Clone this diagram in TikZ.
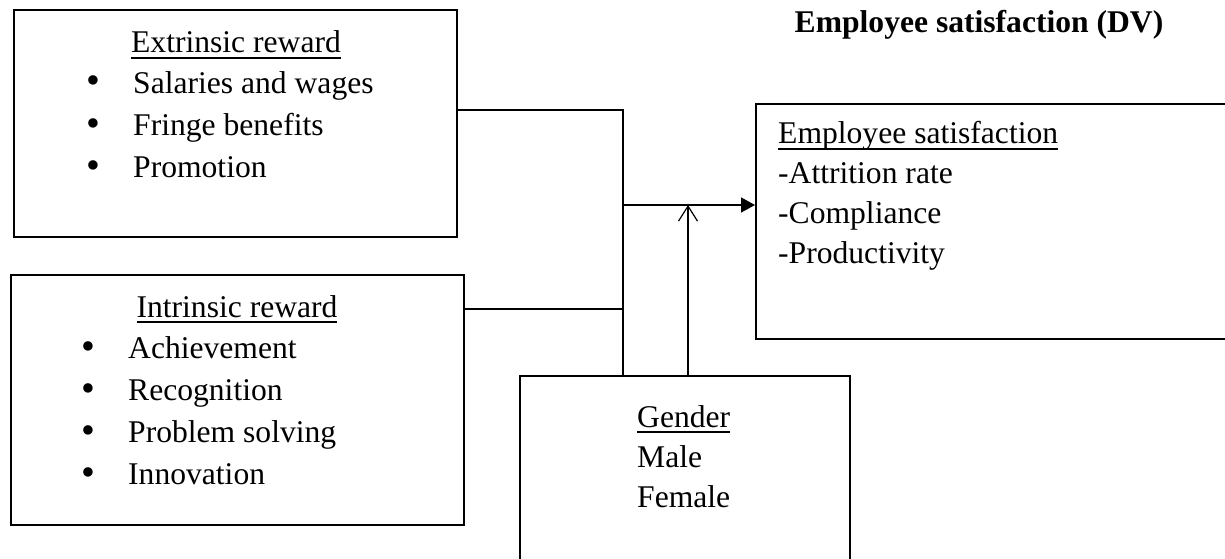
\documentclass[tikz,border=0pt]{standalone}
\usepackage{fontspec}
\setmainfont{Liberation Serif}
\usepackage{tikz}
\usetikzlibrary{arrows.meta, positioning, calc}

% underline sitting a little below the baseline
\newsavebox\ulbox
\newcommand{\ulin}[1]{\sbox\ulbox{#1}\rlap{\rule[-6pt]{\wd\ulbox}{1.8pt}}\usebox\ulbox}
\newcommand{\bul}{\makebox[47pt][l]{\raisebox{-1pt}{\scalebox{1.25}{\textbullet}}}}

\tikzset{
  box/.style={draw, line width=2pt, inner sep=0pt},
  txt/.style={inner sep=0pt, align=left, font=\fontsize{31.6}{42}\selectfont},
  link/.style={line width=1.4pt},
}

\begin{document}
\begin{tikzpicture}[x=1pt, y=-1pt]
  \useasboundingbox (0,0) rectangle (1225,559);
  \clip (0,0) rectangle (1225,559);

  % boxes
  \node[box, minimum width=443pt, minimum height=227pt] (extr) at (235.5,123.5) {};
  \node[box, minimum width=453pt, minimum height=250pt] (intr) at (237.5,400) {};
  \node[box, minimum width=330pt, minimum height=200pt] (gend) at (685,476) {};
  \node[box, minimum width=490pt, minimum height=235pt] (emp) at (1001,221.5) {};

  % texts (multi-line nodes sit on the baseline of their last line)
  \node[txt, anchor=base] (title) at (979,33) {\textbf{Employee satisfaction (DV)}};
  \node[txt, anchor=base] (extrhead) at (236,53) {\ulin{Extrinsic reward}};
  \node[txt, anchor=base west] (extrlist) at (86,177)
    {\bul Salaries and wages\\ \bul Fringe benefits\\ \bul Promotion};
  \node[txt, anchor=base] (intrhead) at (237,317) {\ulin{Intrinsic reward}};
  \node[txt, anchor=base west] (intrlist) at (81,484)
    {\bul Achievement\\ \bul Recognition\\ \bul Problem solving\\ \bul Innovation};
  \node[txt, anchor=base west, font=\fontsize{31.6}{40}\selectfont] (gendtxt) at (637,507)
    {\ulin{Gender}\\ Male\\ Female};
  \node[txt, anchor=base west, font=\fontsize{31.6}{39.7}\selectfont] (emptxt) at (778,263)
    {\ulin{Employee satisfaction}\\ -Attrition rate\\ -Compliance\\ -Productivity};

  % connectors
  \coordinate (jtop) at (623,110);
  \coordinate (jmid) at (623,309);
  \coordinate (jarr) at (623,205);
  \draw[link] (extr.east |- jtop) -- (jtop) -- (jtop |- gend.north);
  \draw[link] (intr.east |- jmid) -- (jmid);
  \draw[link, -{Triangle[length=14pt, width=15pt]}] (jarr) -- (jarr -| emp.west);
  \draw[link, line width=1.2pt, -{Straight Barb[length=15pt, width=19pt]}]
    ([xshift=3pt]gend.north) -- ([xshift=3pt]gend.north |- jarr);
\end{tikzpicture}
\end{document}
